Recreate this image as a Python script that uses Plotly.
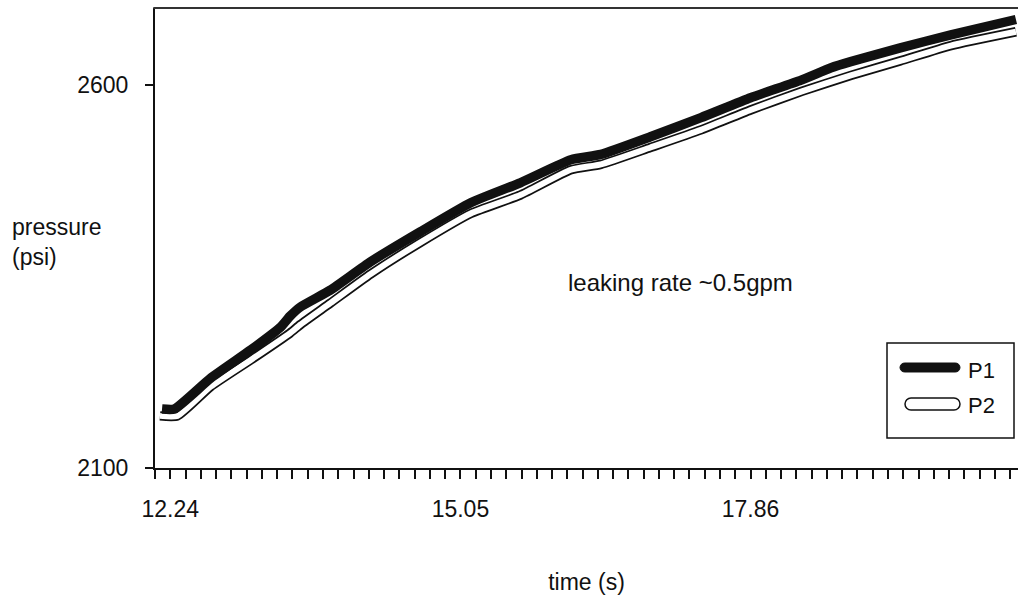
import plotly.graph_objects as go

# ---- data ----
t_p1 = [12.16, 12.28, 12.63, 13.02, 13.31, 13.40, 13.50, 13.79, 14.18, 14.66,
        15.15, 15.63, 16.12, 16.41, 16.89, 17.38, 17.86, 18.35, 18.64, 18.83,
        19.31, 19.80, 20.43]
p1 = [2177, 2177, 2217, 2254, 2284, 2298, 2310, 2332, 2369, 2408,
      2446, 2472, 2502, 2509, 2532, 2557, 2583, 2606, 2622, 2630,
      2648, 2665, 2685]

t_p2 = [12.14, 12.31, 12.63, 13.02, 13.40, 13.50, 13.79, 14.18, 14.66, 15.15,
        15.63, 16.12, 16.41, 16.89, 17.38, 17.86, 18.35, 18.83, 19.31, 19.80,
        20.43]
p2 = [2168, 2168, 2206, 2241, 2276, 2287, 2315, 2353, 2394, 2432,
      2456, 2489, 2496, 2518, 2541, 2567, 2591, 2612, 2631, 2651,
      2669]

x_tick0 = 12.24
x_major = 2.81
x_minor_per_major = 19
x_range = [12.092, 20.45]
y_range = [2100, 2700]
y_ticks = [2100, 2600]

FONT = "Liberation Sans, Arial, sans-serif"
INK = "#111111"

# plot area in pixels
L, R, T, B = 155, 1018, 8, 468
W, H = R - L, B - T


def px_x(px):
    return (px - L) / W


def px_y(py):
    return (B - py) / H


def capsule(x1, x2, yc, r):
    """Rounded bar path in paper coords from pixel geometry."""
    k = 0.552 * r
    a, b = x1 + r, x2 - r
    pts = [
        ("M", [(a, yc - r)]),
        ("L", [(b, yc - r)]),
        ("C", [(b + k, yc - r), (x2, yc - k), (x2, yc)]),
        ("C", [(x2, yc + k), (b + k, yc + r), (b, yc + r)]),
        ("L", [(a, yc + r)]),
        ("C", [(a - k, yc + r), (x1, yc + k), (x1, yc)]),
        ("C", [(x1, yc - k), (a - k, yc - r), (a, yc - r)]),
    ]
    s = ""
    for cmd, ps in pts:
        s += cmd + " " + " ".join(f"{px_x(x):.5f},{px_y(y):.5f}" for x, y in ps) + " "
    return s + "Z"


line_shape = dict(shape="spline", smoothing=0.5)

fig = go.Figure()
fig.add_trace(go.Scatter(x=t_p2, y=p2, mode="lines", name="P2 outline",
                         line=dict(color=INK, width=9.5, **line_shape), showlegend=False))
fig.add_trace(go.Scatter(x=t_p2, y=p2, mode="lines", name="P2",
                         line=dict(color="white", width=6, **line_shape), showlegend=False))
fig.add_trace(go.Scatter(x=t_p1, y=p1, mode="lines", name="P1",
                         line=dict(color=INK, width=9.5, **line_shape), showlegend=False))

fig.update_layout(
    width=1018, height=598,
    margin=dict(l=L, r=1018 - R, t=T, b=598 - B),
    paper_bgcolor="white", plot_bgcolor="white",
    font=dict(family=FONT, size=23, color=INK),
    showlegend=False,
    xaxis=dict(range=x_range, tickmode="linear", tick0=x_tick0, dtick=x_major,
               tickformat=".2f", ticks="outside", ticklen=9, tickwidth=1.5,
               tickcolor=INK, showline=True, linecolor=INK, linewidth=2,
               showgrid=False, zeroline=False, ticklabelstandoff=10,
               tickfont=dict(size=23),
               minor=dict(dtick=x_major / x_minor_per_major, tick0=x_tick0,
                          ticks="outside", ticklen=9, tickwidth=1.5,
                          tickcolor=INK, showgrid=False),
               title=dict(text="time (s)", standoff=53,
                          font=dict(size=23))),
    yaxis=dict(range=y_range, tickmode="array", tickvals=y_ticks,
               ticks="outside", ticklen=8, tickwidth=1.5, tickcolor=INK,
               showline=True, linecolor=INK, linewidth=2, showgrid=False,
               zeroline=False, ticklabelstandoff=12, tickfont=dict(size=23)),
)

shapes = [
    dict(type="line", xref="paper", yref="paper", x0=-0.002, x1=1, y0=1, y1=1,
         line=dict(color="#333333", width=2)),
    # legend box
    dict(type="rect", xref="paper", yref="paper", x0=px_x(887), x1=px_x(1014),
         y0=px_y(438), y1=px_y(343), line=dict(color=INK, width=1.5),
         fillcolor="white"),
    dict(type="path", xref="paper", yref="paper", path=capsule(900, 960, 367.5, 4.5),
         fillcolor=INK, line=dict(color=INK, width=1)),
    dict(type="path", xref="paper", yref="paper", path=capsule(905, 960, 404, 6),
         fillcolor="white", line=dict(color=INK, width=1.5)),
]
fig.update_layout(shapes=shapes)

annotations = [
    dict(text="P1", x=px_x(966), y=px_y(370), xref="paper", yref="paper",
         xanchor="left", yanchor="middle", showarrow=False, font=dict(size=22)),
    dict(text="P2", x=px_x(966), y=px_y(405), xref="paper", yref="paper",
         xanchor="left", yanchor="middle", showarrow=False, font=dict(size=22)),
    dict(text="leaking rate ~0.5gpm", x=px_x(566), y=px_y(282), xref="paper",
         yref="paper", xanchor="left", yanchor="middle", showarrow=False,
         font=dict(size=24)),
    dict(text="pressure<br>(psi)", x=px_x(10), y=px_y(242), xref="paper",
         yref="paper", xanchor="left", yanchor="middle", align="left",
         showarrow=False, font=dict(size=23)),
]
fig.update_layout(annotations=annotations)

fig.write_html("out.html", config={"displayModeBar": False},
               post_script="document.body.style.margin='0px';document.body.style.overflow='hidden';")
